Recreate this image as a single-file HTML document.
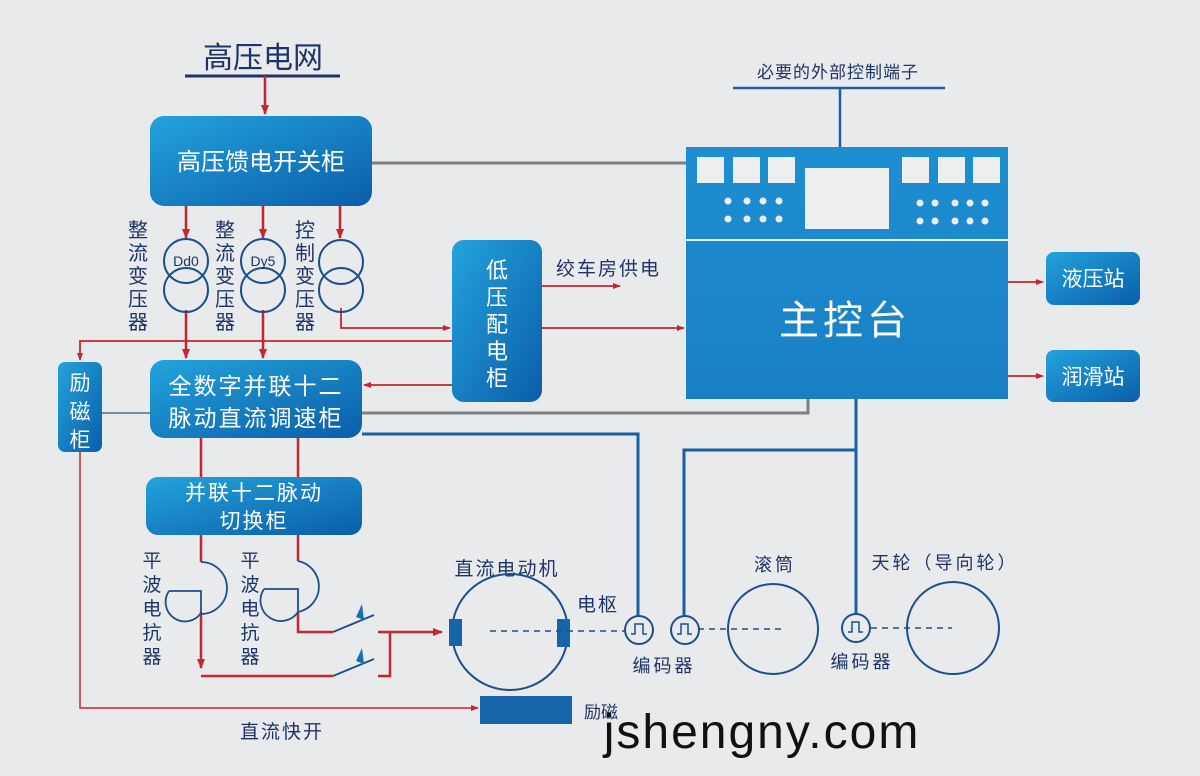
<!DOCTYPE html>
<html><head><meta charset="utf-8"><style>
body{margin:0;background:#e9eaec;}
svg{display:block;font-family:"Liberation Sans","Noto Sans CJK SC",sans-serif;}
</style></head><body>
<svg width="1200" height="776" viewBox="0 0 1200 776" xmlns="http://www.w3.org/2000/svg">
<defs>
<linearGradient id="g" x1="0" y1="0" x2="1" y2="1">
<stop offset="0" stop-color="#23a3dc"/><stop offset="1" stop-color="#0b5ea8"/></linearGradient>
<linearGradient id="gc" x1="0" y1="0" x2="0" y2="1">
<stop offset="0" stop-color="#1d8fd0"/><stop offset="1" stop-color="#1a7fc4"/></linearGradient>
<marker id="a" markerWidth="10" markerHeight="8" refX="9" refY="4" orient="auto" markerUnits="userSpaceOnUse"><path d="M0,0 L10,4 L0,8 Z" fill="#c8262e"/></marker>
<marker id="as" markerWidth="8" markerHeight="6" refX="7" refY="3" orient="auto" markerUnits="userSpaceOnUse"><path d="M0,0 L8,3 L0,6 Z" fill="#c8262e"/></marker>
</defs>
<rect width="1200" height="776" fill="#e9eaec"/>

<text x="263" y="68" font-size="30" fill="#1e3468" text-anchor="middle">高压电网</text>
<line x1="185" y1="76" x2="340" y2="76" stroke="#1e3468" stroke-width="3"/>
<line x1="265" y1="76" x2="265" y2="114" stroke="#c8262e" stroke-width="2.5" marker-end="url(#a)"/>

<rect x="150" y="116" width="222" height="90" rx="14" fill="url(#g)"/>
<text x="261" y="170" font-size="24" fill="#fff" text-anchor="middle">高压馈电开关柜</text>
<line x1="372" y1="163" x2="686" y2="163" stroke="#7d7f83" stroke-width="3"/>

<g stroke="#c8262e" stroke-width="2.5" fill="none">
<line x1="186" y1="206" x2="186" y2="238" marker-end="url(#a)"/>
<line x1="263" y1="206" x2="263" y2="238" marker-end="url(#a)"/>
<line x1="340" y1="206" x2="340" y2="238" marker-end="url(#a)"/>
<line x1="186" y1="310" x2="186" y2="358" marker-end="url(#a)"/>
<line x1="263" y1="310" x2="263" y2="358" marker-end="url(#a)"/>
</g>
<g stroke="#c8262e" stroke-width="1.8" fill="none">
<polyline points="341,308 341,328 450,328" marker-end="url(#as)"/>
<polyline points="452,341 80,341 80,360" marker-end="url(#as)"/>
</g>
<g stroke="#1d4f8c" stroke-width="2" fill="none">
<circle cx="186" cy="261" r="22"/><circle cx="186" cy="290" r="22"/>
<circle cx="263" cy="261" r="22"/><circle cx="263" cy="290" r="22"/>
<circle cx="341" cy="262" r="22"/><circle cx="341" cy="290" r="22"/>
</g>
<text x="186" y="266" font-size="14" fill="#1e3468" text-anchor="middle">Dd0</text>
<text x="263" y="266" font-size="14" fill="#1e3468" text-anchor="middle">Dy5</text>
<g font-size="20" fill="#1e3468" text-anchor="middle">
<text x="138" y="237">整</text><text x="138" y="260">流</text><text x="138" y="283">变</text><text x="138" y="306">压</text><text x="138" y="329">器</text>
<text x="225" y="237">整</text><text x="225" y="260">流</text><text x="225" y="283">变</text><text x="225" y="306">压</text><text x="225" y="329">器</text>
<text x="305" y="237">控</text><text x="305" y="260">制</text><text x="305" y="283">变</text><text x="305" y="306">压</text><text x="305" y="329">器</text>
</g>

<rect x="452" y="240" width="90" height="162" rx="12" fill="url(#g)"/>
<g font-size="22" fill="#fff" text-anchor="middle">
<text x="497" y="278">低</text><text x="497" y="305">压</text><text x="497" y="332">配</text><text x="497" y="359">电</text><text x="497" y="386">柜</text></g>
<text x="556" y="275" font-size="19" fill="#1e3468" letter-spacing="2">绞车房供电</text>
<g stroke="#c8262e" stroke-width="1.8" fill="none">
<line x1="542" y1="286" x2="620" y2="286" marker-end="url(#as)"/>
<line x1="542" y1="328" x2="684" y2="328" marker-end="url(#as)"/>
<line x1="452" y1="385" x2="364" y2="385" marker-end="url(#as)"/>
</g>

<rect x="150" y="360" width="212" height="78" rx="14" fill="url(#g)"/>
<text x="256" y="394" font-size="23" fill="#fff" text-anchor="middle" letter-spacing="2">全数字并联十二</text>
<text x="256" y="426" font-size="23" fill="#fff" text-anchor="middle" letter-spacing="2">脉动直流调速柜</text>
<polyline points="362,413 808,413 808,398" stroke="#7d7f83" stroke-width="3" fill="none"/>
<polyline points="362,434 638,434 638,616" stroke="#1a5fa3" stroke-width="3" fill="none"/>

<rect x="58" y="362" width="44" height="90" rx="7" fill="url(#g)"/>
<g font-size="21" fill="#fff" text-anchor="middle"><text x="80" y="390">励</text><text x="80" y="419">磁</text><text x="80" y="447">柜</text></g>
<line x1="102" y1="413" x2="150" y2="413" stroke="#6f8fa6" stroke-width="2"/>
<polyline points="80,452 80,708 478,708" stroke="#c8262e" stroke-width="1.5" fill="none" marker-end="url(#as)"/>
<rect x="480" y="696" width="92" height="28" fill="#1565a8"/>
<text x="584" y="718" font-size="17" fill="#1e3468">励磁</text>
<text x="282" y="738" font-size="19" fill="#1e3468" text-anchor="middle" letter-spacing="2">直流快开</text>

<g stroke="#c8262e" stroke-width="2.5"><line x1="201" y1="438" x2="201" y2="477"/><line x1="298" y1="438" x2="298" y2="477"/></g>
<rect x="146" y="477" width="216" height="58" rx="12" fill="url(#g)"/>
<text x="254" y="500" font-size="21" fill="#fff" text-anchor="middle" letter-spacing="2">并联十二脉动</text>
<text x="254" y="528" font-size="21" fill="#fff" text-anchor="middle" letter-spacing="2">切换柜</text>

<g stroke="#c8262e" stroke-width="2.5" fill="none">
<line x1="201" y1="535" x2="201" y2="562"/>
<line x1="298" y1="535" x2="298" y2="561"/>
<polyline points="201,612 201,668" marker-end="url(#a)"/>
<polyline points="201,676 333,676"/>
<polyline points="298,612 298,622"/>
<polyline points="298,622 298,632 333,632"/>
<polyline points="390,632 390,676 378,676"/>
<line x1="390" y1="632" x2="442" y2="632" marker-end="url(#a)"/>
<line x1="390" y1="632" x2="378" y2="632"/>
</g>
<g stroke="#1d4f8c" stroke-width="1.8" fill="none">
<path d="M201,562 A26,26 0 0 1 201,614"/>
<path d="M169,591 L201,591 L201,613 A16,16 0 0 1 169,591"/>
<path d="M298,561 A26,26 0 0 1 298,612"/>
<path d="M264,589 L298,589 L298,612 A17,17 0 0 1 264,589"/>
<line x1="333" y1="632" x2="374" y2="615"/>
<line x1="333" y1="676" x2="374" y2="659"/>
</g>
<path d="M356,617 L362,604 L364,620 Z" fill="#1a6fb3"/>
<path d="M356,661 L362,648 L364,664 Z" fill="#1a6fb3"/>
<g font-size="19" fill="#1e3468" text-anchor="middle">
<text x="152" y="567">平</text><text x="152" y="591">波</text><text x="152" y="615">电</text><text x="152" y="639">抗</text><text x="152" y="663">器</text>
<text x="250" y="567">平</text><text x="250" y="591">波</text><text x="250" y="615">电</text><text x="250" y="639">抗</text><text x="250" y="663">器</text>
</g>

<text x="507" y="575" font-size="19" fill="#1e3468" text-anchor="middle" letter-spacing="2">直流电动机</text>
<circle cx="510" cy="632" r="58" fill="none" stroke="#1d4f8c" stroke-width="2"/>
<rect x="449" y="619" width="13" height="27" fill="#1565a8"/>
<rect x="557" y="619" width="13" height="28" fill="#1565a8"/>
<text x="598" y="611" font-size="19" fill="#1e3468" text-anchor="middle" letter-spacing="2">电枢</text>
<g stroke="#1d4f8c" stroke-width="1.5" stroke-dasharray="6,5">
<line x1="490" y1="631" x2="626" y2="631"/><line x1="698" y1="629" x2="782" y2="629"/><line x1="871" y1="628" x2="952" y2="628"/>
</g>
<polyline points="684,616 684,450 856,450" stroke="#1a5fa3" stroke-width="3" fill="none"/>
<line x1="856" y1="398" x2="856" y2="614" stroke="#1a5fa3" stroke-width="3"/>
<g fill="#e9eaec" stroke="#1d4f8c" stroke-width="2">
<circle cx="639" cy="630" r="14"/><circle cx="685" cy="630" r="14"/><circle cx="856" cy="628" r="14"/></g>
<g stroke="#1d4f8c" stroke-width="1.5" fill="none">
<polyline points="631,634 635,634 635,624 643,624 643,634 647,634"/>
<polyline points="677,634 681,634 681,624 688,624 688,634 692,634"/>
<polyline points="848,632 852,632 852,622 859,622 859,632 863,632"/>
</g>
<g font-size="18" fill="#1e3468" text-anchor="middle" letter-spacing="3">
<text x="664" y="672">编码器</text><text x="862" y="668">编码器</text>
<text x="775" y="571">滚筒</text><text x="945" y="569">天轮（导向轮）</text></g>
<circle cx="773" cy="629" r="45" fill="none" stroke="#1d4f8c" stroke-width="2"/>
<circle cx="953" cy="628" r="46" fill="none" stroke="#1d4f8c" stroke-width="2"/>

<text x="838" y="78" font-size="17" fill="#1e3468" text-anchor="middle" letter-spacing="1">必要的外部控制端子</text>
<line x1="733" y1="88" x2="945" y2="88" stroke="#1a5fa3" stroke-width="2.5"/>
<line x1="840" y1="88" x2="840" y2="147" stroke="#1a5fa3" stroke-width="2.5"/>
<rect x="686" y="147" width="322" height="252" fill="url(#gc)"/>
<line x1="686" y1="240" x2="1008" y2="240" stroke="#eaf4fa" stroke-width="2"/>
<g fill="#eceeef">
<rect x="697" y="157" width="27" height="26"/><rect x="733" y="157" width="27" height="26"/><rect x="768" y="157" width="27" height="26"/>
<rect x="805" y="168" width="84" height="61"/>
<rect x="902" y="157" width="27" height="26"/><rect x="938" y="157" width="27" height="26"/><rect x="973" y="157" width="27" height="26"/>
<circle cx="728" cy="201" r="3.5"/><circle cx="747" cy="201" r="3.5"/><circle cx="763" cy="201" r="3.5"/><circle cx="779" cy="201" r="3.5"/>
<circle cx="728" cy="219" r="3.5"/><circle cx="747" cy="219" r="3.5"/><circle cx="763" cy="219" r="3.5"/><circle cx="779" cy="219" r="3.5"/>
<circle cx="920" cy="203" r="3.5"/><circle cx="935" cy="203" r="3.5"/><circle cx="955" cy="203" r="3.5"/><circle cx="970" cy="203" r="3.5"/><circle cx="985" cy="203" r="3.5"/>
<circle cx="920" cy="221" r="3.5"/><circle cx="935" cy="221" r="3.5"/><circle cx="955" cy="221" r="3.5"/><circle cx="970" cy="221" r="3.5"/><circle cx="985" cy="221" r="3.5"/>
</g>
<text x="845" y="334" font-size="40" fill="#fff" text-anchor="middle" letter-spacing="4">主控台</text>

<g stroke="#c8262e" stroke-width="1.8"><line x1="1008" y1="282" x2="1043" y2="282" marker-end="url(#as)"/><line x1="1008" y1="376" x2="1043" y2="376" marker-end="url(#as)"/></g>
<rect x="1046" y="252" width="94" height="53" rx="8" fill="url(#g)"/>
<text x="1093" y="286" font-size="21" fill="#fff" text-anchor="middle">液压站</text>
<rect x="1046" y="350" width="94" height="52" rx="8" fill="url(#g)"/>
<text x="1093" y="384" font-size="21" fill="#fff" text-anchor="middle">润滑站</text>

<text x="762" y="748" font-size="48" fill="#111" text-anchor="middle" letter-spacing="2">jshengny.com</text>
</svg>
</body></html>
